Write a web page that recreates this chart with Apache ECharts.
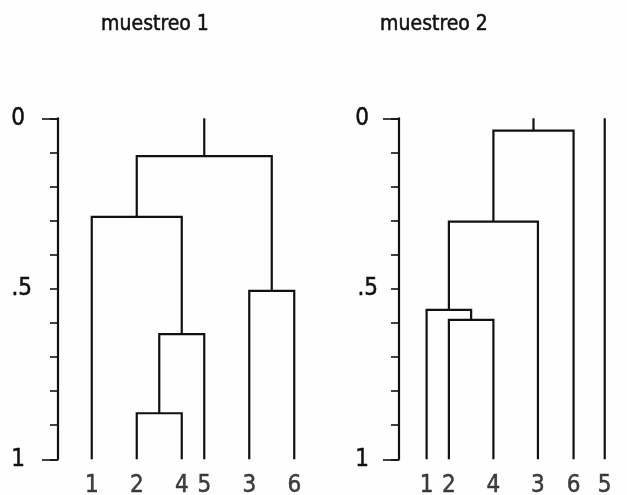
<!DOCTYPE html>
<html><head><meta charset="utf-8">
<script src="https://cdn.jsdelivr.net/npm/echarts@6/dist/echarts.min.js"></script>
<style>html,body{margin:0;padding:0;background:#fefefe}#c{width:627px;height:495px}</style>
</head><body><div id="c"></div>
<script>
// ---- data ----
const titles = ['muestreo 1', 'muestreo 2'];
const leaves1 = ['1', '2', '4', '5', '3', '6'];
const leafPos1 = [1, 2, 3, 3.5, 4.5, 5.5];
// merges: [childA, childB, height]; leaves are 0..n-1, new clusters n, n+1, ...
const merges1 = [[1, 2, 0.865], [6, 3, 0.633], [0, 7, 0.289], [4, 5, 0.506], [8, 9, 0.111]];
const leaves2 = ['1', '2', '4', '3', '6', '5'];
const leafPos2 = [1, 1.5, 2.5, 3.5, 4.3, 5.0];
const merges2 = [[1, 2, 0.591], [0, 6, 0.562], [7, 3, 0.303], [8, 4, 0.036]];
const yTicks = {0: '0', 0.5: '.5', 1: '1'};

// ---- build ----
function build(leaves, pos, merges) {
  const nodes = leaves.map((l, i) => ({x: pos[i], h: 1}));
  const used = new Set();
  const segs = [];
  merges.forEach(([a, b, h]) => {
    const A = nodes[a], B = nodes[b];
    segs.push({coords: [[A.x, A.h], [A.x, h], [B.x, h], [B.x, B.h]]});
    used.add(a); used.add(b);
    nodes.push({x: (A.x + B.x) / 2, h: h});
  });
  nodes.forEach((n, i) => { if (!used.has(i)) segs.push({coords: [[n.x, n.h], [n.x, 0]]}); });
  const labels = leaves.map((l, i) => ({value: [pos[i], 1], name: l}));
  return {segs, labels};
}
const d1 = build(leaves1, leafPos1, merges1);
const d2 = build(leaves2, leafPos2, merges2);

const FONT = '"DejaVu Sans Condensed", "DejaVu Sans", sans-serif';
const FS = 21, FN = 24;
const INK = '#111111';
const BOLDEN = {textBorderColor: INK, textBorderWidth: 0.5};
const grids = [
  {left: 58, top: 118.3, width: 258.75, height: 341},
  {left: 399, top: 118.3, width: 230.4, height: 341}
];
const xRanges = [[0.25, 6], [0.38, 5.5]];
const labMargin = [26, 21], labPad = [7, 9];

const titleStyle = Object.assign({fontFamily: FONT, fontSize: FS, fontWeight: 'normal', color: INK}, BOLDEN);
const option = {
  backgroundColor: '#fefefe',
  animation: false,
  title: [
    {text: titles[0], left: 150, top: 9, textAlign: 'center', textStyle: titleStyle},
    {text: titles[1], left: 429, top: 9, textAlign: 'center', textStyle: titleStyle}
  ],
  grid: grids,
  xAxis: xRanges.map((r, i) => ({type: 'value', gridIndex: i, min: r[0], max: r[1], show: false})),
  yAxis: [0, 1].flatMap(i => [
    {type: 'value', gridIndex: i, min: 0, max: 1, interval: 0.1, inverse: true, position: 'left',
     axisLine: {show: true, lineStyle: {color: INK, width: 2.2}},
     axisTick: {show: true, length: 8, lineStyle: {color: INK, width: 1.6}},
     splitLine: {show: false},
     axisLabel: Object.assign({margin: labMargin[i], fontFamily: FONT, fontSize: FN, color: INK,
       formatter: v => {
         if (Math.abs(v) < 1e-6) return '{p|' + yTicks[0] + '}';
         if (Math.abs(v - 1) < 1e-6) return '{p|' + yTicks[1] + '}';
         if (Math.abs(v - 0.5) < 1e-6) return yTicks[0.5];
         return '';
       },
       rich: {p: Object.assign({fontFamily: FONT, fontSize: FN, color: INK, padding: [0, labPad[i], 0, 0]}, BOLDEN)}
     }, BOLDEN)},
    {type: 'value', gridIndex: i, min: 0, max: 1, interval: 1, inverse: true, position: 'left', offset: 0,
     axisLine: {show: false}, axisTick: {show: true, length: 16, lineStyle: {color: INK, width: 1.6}},
     axisLabel: {show: false}, splitLine: {show: false}}
  ]),
  series: [
    {type: 'lines', coordinateSystem: 'cartesian2d', xAxisIndex: 0, yAxisIndex: 0, polyline: true,
     lineStyle: {color: INK, width: 2.2, opacity: 1}, data: d1.segs, clip: false},
    {type: 'lines', coordinateSystem: 'cartesian2d', xAxisIndex: 1, yAxisIndex: 2, polyline: true,
     lineStyle: {color: INK, width: 2.2, opacity: 1}, data: d2.segs, clip: false},
    {type: 'scatter', xAxisIndex: 0, yAxisIndex: 0, symbolSize: 0, data: d1.labels, clip: false,
     label: Object.assign({show: true, position: 'bottom', distance: 14, formatter: p => p.name, fontFamily: FONT, fontSize: FN, color: INK}, BOLDEN)},
    {type: 'scatter', xAxisIndex: 1, yAxisIndex: 2, symbolSize: 0, data: d2.labels, clip: false,
     label: Object.assign({show: true, position: 'bottom', distance: 14, formatter: p => p.name, fontFamily: FONT, fontSize: FN, color: INK}, BOLDEN)}
  ]
};
echarts.init(document.getElementById('c')).setOption(option);
</script></body></html>
